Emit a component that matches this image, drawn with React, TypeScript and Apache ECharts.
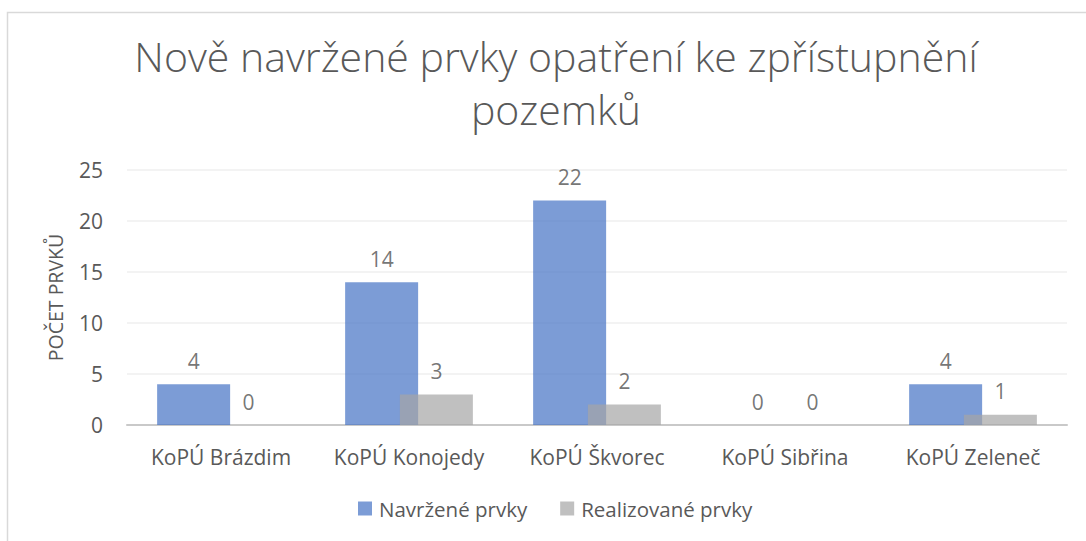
import React, { useEffect, useRef } from "react";
import * as echarts from "echarts";

const categories = ["KoPÚ Brázdim", "KoPÚ Konojedy", "KoPÚ Škvorec", "KoPÚ Sibřina", "KoPÚ Zeleneč"];
const navrzene = [4, 14, 22, 0, 4];
const realizovane = [0, 3, 2, 0, 1];
const seriesNames = ["Navržené prvky", "Realizované prvky"];
const titleText = "Nově navržené prvky opatření ke zpřístupnění\npozemků";
const yAxisName = "POČET PRVKŮ";

const FONT = "'Open Sans', 'Noto Sans', sans-serif";

export default function App() {
  const ref = useRef<HTMLDivElement>(null);
  useEffect(() => {
    if (!ref.current) return;
    const chart = echarts.init(ref.current, undefined, { renderer: "svg" });
    const labelStyle = {
      show: true,
      position: "top" as const,
      distance: 13,
      color: "#3a3a3a",
      fontSize: 21,
      fontFamily: FONT,
    };
    chart.setOption({
      animation: false,
      backgroundColor: "#ffffff",
      graphic: [
        {
          type: "rect",
          shape: { x: 7.5, y: 12.5, width: 1200, height: 1000 },
          style: { fill: "none", stroke: "#d9d9d9", lineWidth: 1.5 },
          silent: true,
        },
      ],
      title: {
        text: titleText,
        left: 551,
        top: 24,
        textAlign: "center",
        textStyle: {
          color: "#595959",
          fontSize: 41,
          fontWeight: 300,
          fontFamily: FONT,
          lineHeight: 53,
          align: "center",
        },
      },
      legend: {
        data: seriesNames,
        bottom: 17,
        left: 353,
        itemWidth: 14,
        itemHeight: 14,
        itemGap: 33,
        icon: "rect",
        textStyle: { color: "#595959", fontSize: 20.5, fontFamily: FONT, padding: [0, 0, 0, 2] },
      },
      grid: { left: 127, right: 19, top: 170, bottom: 116 },
      xAxis: {
        type: "category",
        data: categories,
        axisLine: { show: true, lineStyle: { color: "#c9c9c9", width: 2 } },
        axisTick: { show: false },
        axisLabel: { color: "#595959", fontSize: 21, fontFamily: FONT, margin: 21, interval: 0 },
      },
      yAxis: {
        type: "value",
        min: 0,
        max: 25,
        interval: 5,
        name: yAxisName,
        nameLocation: "middle",
        nameGap: 62,
        nameTextStyle: { color: "#595959", fontSize: 19.5, fontFamily: FONT },
        axisLine: { show: false },
        axisTick: { show: false },
        axisLabel: { color: "#595959", fontSize: 21, fontFamily: FONT, margin: 24 },
        splitLine: { lineStyle: { color: "#efefef", width: 1.5 } },
      },
      series: [
        {
          name: seriesNames[0],
          type: "bar",
          data: navrzene,
          barWidth: 73,
          barGap: "-25%",
          itemStyle: { color: "#4472C4", opacity: 0.7 },
          label: labelStyle,
        },
        {
          name: seriesNames[1],
          type: "bar",
          data: realizovane,
          barWidth: 73,
          barGap: "-25%",
          itemStyle: { color: "#A5A5A5", opacity: 0.7 },
          label: labelStyle,
        },
      ],
    });
    return () => chart.dispose();
  }, []);
  return (
    <div
      ref={ref}
      style={{ position: "absolute", left: 0, top: 0, width: 1086, height: 541 }}
    />
  );
}
